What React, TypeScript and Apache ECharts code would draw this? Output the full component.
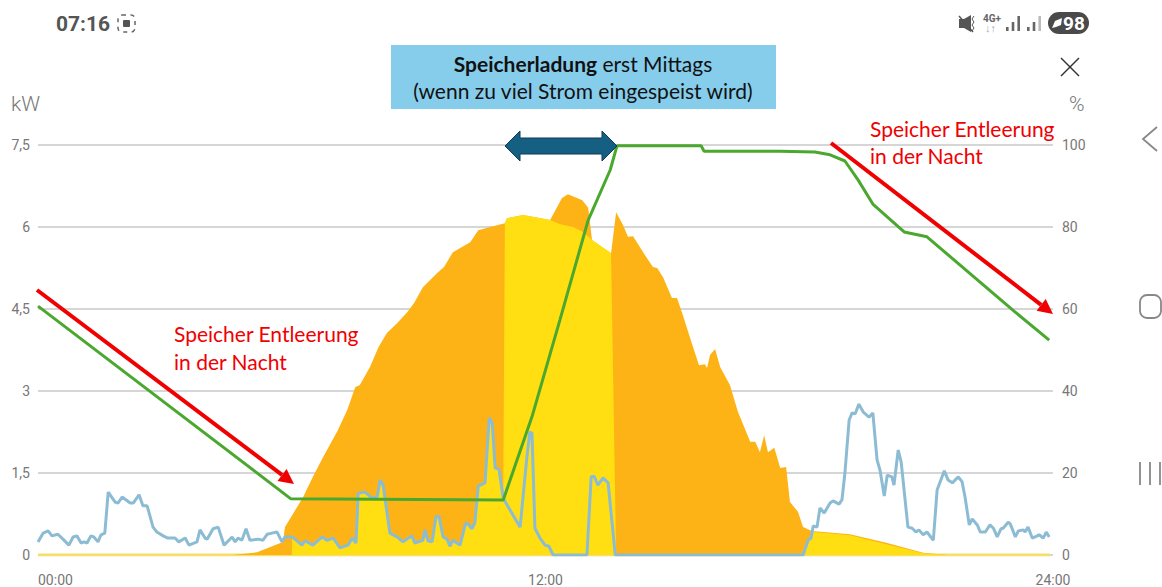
import React, { useEffect, useRef } from "react";
import * as echarts from "echarts";

const xTickLabels = ["00:00", "12:00", "24:00"];
const powerTicks = ["0", "1,5", "3", "4,5", "6", "7,5"];
const percentTicks = ["0", "20", "40", "60", "80", "100"];

const baseline = [[0, 0], [23.93, 0]];

const production = [
  [4.61, 0], [5.18, 0.05], [5.79, 0.24], [5.84, 0.51], [6.27, 1.06], [6.5, 1.43], [6.74, 1.79], [7.08, 2.27], [7.31, 2.65], [7.5, 3.07], [7.61, 3.11],
  [7.85, 3.44], [8.05, 3.8], [8.25, 4.06], [8.49, 4.24], [8.73, 4.44], [8.9, 4.62], [9.1, 4.9], [9.44, 5.16], [9.6, 5.27], [9.81, 5.54], [10.22, 5.72], [10.41, 5.94],
  [10.69, 6.0], [11.04, 6.07], [11.09, 6.16], [11.47, 6.22], [12.11, 6.13], [12.39, 6.53], [12.53, 6.6], [12.87, 6.49],
  [13.01, 6.35], [13.1, 5.76], [13.55, 5.52], [13.67, 6.27], [13.83, 6.04], [13.95, 5.82], [14.07, 5.83], [14.35, 5.49],
  [14.54, 5.27], [14.64, 5.25], [14.78, 5.08], [14.99, 4.7], [15.11, 4.7], [15.23, 4.43], [15.42, 3.97], [15.49, 3.8],
  [15.63, 3.47], [15.77, 3.49], [15.82, 3.42], [15.89, 3.66], [16.01, 3.77], [16.13, 3.44], [16.36, 3.11], [16.55, 2.62],
  [16.84, 2.07], [16.96, 2.07], [17.07, 1.88], [17.17, 2.19], [17.26, 1.88], [17.41, 1.96], [17.55, 1.59], [17.69, 1.61],
  [17.78, 0.97], [17.97, 0.79], [18.09, 0.51], [18.3, 0.44], [19.2, 0.38], [20.08, 0.22], [20.93, 0.04], [21.5, 0], [23.93, 0],
];

const selfUse = [
  [6.0, 0], [6.01, 0.33], [6.24, 0.18], [6.31, 0.26], [6.5, 0.18], [6.72, 0.33], [6.83, 0.27], [6.98, 0.31], [7.14, 0.13],
  [7.33, 0.18], [7.43, 0.31], [7.52, 0.22], [7.57, 1.13], [7.73, 1.15], [7.9, 1.04], [8.02, 1.06], [8.09, 1.37], [8.16, 1.28],
  [8.32, 0.4], [8.49, 0.33], [8.63, 0.24], [8.84, 0.35], [8.91, 0.22], [9.1, 0.27], [9.15, 0.46], [9.22, 0.26], [9.32, 0.24],
  [9.41, 0.7], [9.48, 0.71], [9.58, 0.33], [9.67, 0.29], [9.74, 0.16], [9.81, 0.27], [9.98, 0.18], [10.1, 0.55], [10.14, 0.59],
  [10.26, 0.48], [10.33, 0.59], [10.41, 1.26], [10.57, 1.32], [10.67, 2.51], [10.74, 2.41], [10.81, 1.59], [10.9, 1.57],
  [11.0, 1.04], [11.04, 6.07], [11.09, 6.16], [11.47, 6.22], [12.11, 6.13], [12.35, 6.05], [12.65, 6.0], [12.89, 5.91],
  [13.1, 5.76], [13.55, 5.52], [13.67, 0], [18.09, 0], [18.33, 0.42], [19.2, 0.36], [20.08, 0.19], [20.93, 0.03], [21.5, 0],
];

const consumption = [
  [0, 0.24], [0.12, 0.4], [0.24, 0.44], [0.33, 0.35], [0.47, 0.38], [0.59, 0.29], [0.73, 0.18], [0.83, 0.33], [0.92, 0.35],
  [1.02, 0.22], [1.09, 0.24], [1.16, 0.22], [1.25, 0.35], [1.32, 0.33], [1.42, 0.24], [1.49, 0.37], [1.58, 0.4], [1.66, 1.15],
  [1.82, 0.97], [1.89, 0.95], [1.99, 1.06], [2.18, 0.95], [2.25, 0.95], [2.39, 1.1], [2.48, 0.9], [2.58, 0.9], [2.72, 0.51],
  [2.81, 0.42], [2.96, 0.35], [3.07, 0.31], [3.24, 0.31], [3.33, 0.24], [3.48, 0.31], [3.57, 0.18], [3.76, 0.24], [3.83, 0.46],
  [3.95, 0.31], [4.0, 0.29], [4.14, 0.48], [4.26, 0.51], [4.4, 0.18], [4.59, 0.33], [4.66, 0.24], [4.73, 0.31], [4.82, 0.27],
  [4.92, 0.48], [5.01, 0.27], [5.2, 0.29], [5.32, 0.27], [5.42, 0.38], [5.53, 0.4], [5.65, 0.42], [5.77, 0.24], [5.84, 0.33],
  [6.01, 0.33], [6.24, 0.18], [6.31, 0.26], [6.5, 0.18], [6.72, 0.33], [6.83, 0.27], [6.98, 0.31], [7.14, 0.13], [7.33, 0.18],
  [7.43, 0.31], [7.52, 0.22], [7.57, 1.13], [7.73, 1.15], [7.9, 1.04], [8.02, 1.06], [8.09, 1.37], [8.16, 1.28], [8.32, 0.4],
  [8.49, 0.33], [8.63, 0.24], [8.84, 0.35], [8.91, 0.22], [9.1, 0.27], [9.15, 0.46], [9.22, 0.26], [9.32, 0.24], [9.41, 0.7],
  [9.48, 0.71], [9.58, 0.33], [9.67, 0.29], [9.74, 0.16], [9.81, 0.27], [9.98, 0.18], [10.1, 0.55], [10.14, 0.59], [10.26, 0.48],
  [10.33, 0.59], [10.41, 1.26], [10.57, 1.32], [10.67, 2.51], [10.74, 2.41], [10.81, 1.59], [10.9, 1.57], [11.0, 1.04],
  [11.23, 0.73], [11.4, 0.51], [11.56, 1.79], [11.63, 2.25], [11.68, 2.23], [11.75, 0.49], [11.87, 0.31], [11.99, 0.18],
  [12.08, 0.16], [12.18, 0], [12.98, 0], [13.08, 1.43], [13.15, 1.44], [13.24, 1.28], [13.36, 1.41], [13.48, 1.32], [13.65, 0],
  [18.09, 0], [18.21, 0.27], [18.28, 0.31], [18.33, 0.53], [18.42, 0.51], [18.49, 0.86], [18.59, 0.77], [18.73, 0.95],
  [18.8, 0.99], [18.94, 0.93], [19.01, 1.01], [19.08, 1.5], [19.18, 2.47], [19.25, 2.6], [19.32, 2.58], [19.41, 2.76],
  [19.51, 2.62], [19.65, 2.52], [19.74, 2.6], [19.84, 1.74], [19.91, 1.55], [20.01, 1.08], [20.08, 1.46], [20.19, 1.43],
  [20.24, 1.28], [20.34, 1.92], [20.41, 1.7], [20.57, 0.51], [20.67, 0.49], [20.76, 0.42], [20.83, 0.46], [20.93, 0.37],
  [21.02, 0.42], [21.17, 0.27], [21.26, 1.19], [21.43, 1.54], [21.52, 1.37], [21.62, 1.32], [21.76, 1.43], [21.85, 1.34],
  [21.92, 1.06], [22.02, 0.55], [22.09, 0.66], [22.21, 0.55], [22.28, 0.42], [22.4, 0.42], [22.51, 0.55], [22.59, 0.49],
  [22.68, 0.33], [22.77, 0.48], [22.82, 0.49], [22.94, 0.6], [22.99, 0.57], [23.11, 0.33], [23.18, 0.44], [23.3, 0.46],
  [23.34, 0.42], [23.41, 0.51], [23.51, 0.31], [23.63, 0.35], [23.67, 0.37], [23.77, 0.31], [23.84, 0.42], [23.91, 0.33],
];

const stateOfCharge = [
  [0, 60.7], [5.98, 13.7], [11.0, 13.4], [11.68, 33.7], [12.34, 57.3], [13.01, 81.7], [13.53, 93.9], [13.69, 99.8],
  [15.68, 99.8], [15.75, 98.5], [17.55, 98.5], [18.37, 98.3], [18.73, 97.6], [19.08, 96.1], [19.39, 91.5], [19.74, 85.6],
  [20.48, 78.8], [21.02, 77.6], [23.1, 59.3], [23.91, 52.4],
];

const grey = "#777777";
const calibriLike = "Lato, 'Open Sans', sans-serif";
const uiFont = "Roboto, sans-serif";
const noteSize = 21;

function redArrow(x1: number, y1: number, x2: number, y2: number) {
  const a = Math.atan2(y2 - y1, x2 - x1);
  const len = 15, half = 7.5;
  const bx = x2 - len * Math.cos(a), by = y2 - len * Math.sin(a);
  const nx = -Math.sin(a), ny = Math.cos(a);
  return [
    { type: "line", z: 50, shape: { x1, y1, x2: bx, y2: by }, style: { stroke: "#f00000", lineWidth: 4 } },
    { type: "polygon", z: 50, shape: { points: [[x2, y2], [bx + nx * half, by + ny * half], [bx - nx * half, by - ny * half]] }, style: { fill: "#f00000" } },
  ];
}

function textAt(x: number, y: number, text: string, size: number, fill: string, extra: any = {}) {
  return {
    type: "text", x, y, z: 60,
    style: { text, fontSize: size, fill, fontFamily: uiFont, verticalAlign: "middle", ...extra },
  };
}

function bars(x0: number, heights: number[], fills: string[]) {
  return heights.map((h, i) => ({
    type: "rect", z: 60, shape: { x: x0 + i * 5.7, y: 31 - h, width: 2.6, height: h }, style: { fill: fills[i] },
  }));
}

const overlay: any[] = [
  { type: "rect", z: 40, shape: { x: 391, y: 45, width: 385, height: 64 }, style: { fill: "#86cdec" } },
  {
    type: "text", z: 41, x: 583, y: 77,
    style: {
      text: "{b|Speicherladung} {n|erst Mittags}\n{n|(wenn zu viel Strom eingespeist wird)}",
      align: "center", verticalAlign: "middle", fill: "#111111", fontFamily: calibriLike, fontSize: noteSize, lineHeight: 27,
      rich: {
        b: { fontWeight: "bold", fontSize: noteSize, fontFamily: calibriLike, fill: "#111111", lineHeight: 27 },
        n: { fontSize: noteSize, fontFamily: calibriLike, fill: "#111111", lineHeight: 27 },
      },
    },
  },
  {
    type: "polygon", z: 45,
    shape: { points: [[505, 146], [520, 131], [520, 138], [602, 138], [602, 131], [617, 146], [602, 161], [602, 154], [520, 154], [520, 161]] },
    style: { fill: "#156082", stroke: "#0f3d55", lineWidth: 1 },
  },
  ...redArrow(37, 290, 294, 484),
  ...redArrow(831, 143, 1053, 314),
  {
    type: "text", z: 50, x: 174, y: 347,
    style: { text: "Speicher Entleerung\nin der Nacht", fill: "#f00000", fontFamily: calibriLike, fontSize: noteSize, lineHeight: 28, verticalAlign: "middle" },
  },
  {
    type: "text", z: 50, x: 870, y: 142,
    style: { text: "Speicher Entleerung\nin der Nacht", fill: "#f00000", fontFamily: calibriLike, fontSize: noteSize, lineHeight: 27, verticalAlign: "middle" },
  },
  textAt(56, 24, "07:16", 21, "#555555", { fontWeight: "bold" }),
  { type: "rect", z: 60, shape: { x: 118, y: 15, width: 17, height: 17, r: 4 }, style: { fill: "none", stroke: "#666", lineWidth: 1.5, lineDash: [4, 4.5] } },
  { type: "rect", z: 60, shape: { x: 123, y: 20, width: 7, height: 7, r: 1 }, style: { fill: "#555" } },
  { type: "polygon", z: 60, shape: { points: [[959, 19], [964, 19], [971, 15], [971, 32], [964, 28], [959, 28]] }, style: { fill: "#555" } },
  { type: "line", z: 60, shape: { x1: 959, y1: 16, x2: 973, y2: 32 }, style: { stroke: "#555", lineWidth: 1.5 } },
  { type: "polyline", z: 60, shape: { points: [[974, 16], [972, 19], [974, 22], [972, 25], [974, 28], [972, 31]] }, style: { fill: "none", stroke: "#555", lineWidth: 1 } },
  textAt(983, 18, "4G+", 10, "#666666", { fontWeight: "bold" }),
  textAt(985, 28, "↓↑", 11, "#aaaaaa"),
  ...bars(1006, [4, 9, 15], ["#666", "#666", "#666"]),
  ...bars(1027, [4, 9, 15], ["#666", "#666", "#bbb"]),
  { type: "rect", z: 60, shape: { x: 1048, y: 12, width: 41, height: 22, r: 11 }, style: { fill: "#4a4a4a" } },
  textAt(1063, 23.5, "98", 19, "#ffffff", { fontWeight: "bold" }),
  { type: "polygon", z: 61, shape: { points: [[1052, 28], [1055, 21], [1062, 18], [1061, 25], [1056, 27]] }, style: { fill: "#ffffff" } },
  { type: "line", z: 60, shape: { x1: 1061, y1: 58, x2: 1079, y2: 76 }, style: { stroke: "#333", lineWidth: 1.5 } },
  { type: "line", z: 60, shape: { x1: 1079, y1: 58, x2: 1061, y2: 76 }, style: { stroke: "#333", lineWidth: 1.5 } },
  textAt(11, 104, "kW", 21, grey, { fontWeight: 300 }),
  textAt(1069, 104, "%", 21, grey, { fontWeight: 300 }),
  { type: "polyline", z: 60, shape: { points: [[1157, 127], [1143, 139], [1157, 151]] }, style: { fill: "none", stroke: "#888", lineWidth: 1.8 } },
  { type: "rect", z: 60, shape: { x: 1140, y: 295, width: 21, height: 23, r: 7 }, style: { fill: "none", stroke: "#888", lineWidth: 1.8 } },
  { type: "line", z: 60, shape: { x1: 1140, y1: 462, x2: 1140, y2: 485 }, style: { stroke: "#888", lineWidth: 1.8 } },
  { type: "line", z: 60, shape: { x1: 1150, y1: 462, x2: 1150, y2: 485 }, style: { stroke: "#888", lineWidth: 1.8 } },
  { type: "line", z: 60, shape: { x1: 1160, y1: 462, x2: 1160, y2: 485 }, style: { stroke: "#888", lineWidth: 1.8 } },
];

export default function App() {
  const ref = useRef<HTMLDivElement>(null);
  useEffect(() => {
    const chart = echarts.init(ref.current!, undefined, { renderer: "svg" });
    chart.setOption({
      animation: false,
      backgroundColor: "#ffffff",
      grid: { left: 38, right: 109, top: 145, bottom: 32, containLabel: false },
      xAxis: {
        type: "value", min: 0, max: 24, interval: 12,
        axisLine: { show: false }, axisTick: { show: false }, splitLine: { show: false },
        axisLabel: {
          margin: 18, color: grey, fontSize: 14, fontFamily: uiFont, alignMinLabel: "left",
          showMinLabel: true, showMaxLabel: true,
          formatter: (v: number) => xTickLabels[v / 12],
        },
      },
      yAxis: [
        {
          type: "value", min: 0, max: 7.5, interval: 1.5,
          axisLine: { show: false }, axisTick: { show: false },
          splitLine: { show: true, lineStyle: { color: "#c8c8c8", width: 1.5 } },
          axisLabel: {
            margin: 8, color: grey, fontSize: 14, fontFamily: uiFont, align: "right",
            formatter: (v: number) => powerTicks[Math.round(v / 1.5)],
          },
        },
        {
          type: "value", min: 0, max: 100, interval: 20, position: "right",
          axisLine: { show: false }, axisTick: { show: false }, splitLine: { show: false },
          axisLabel: {
            margin: 9, color: grey, fontSize: 14, fontFamily: uiFont,
            formatter: (v: number) => percentTicks[Math.round(v / 20)],
          },
        },
      ],
      series: [
        { name: "Basis", type: "line", data: baseline, showSymbol: false, silent: true, lineStyle: { color: "#f6dd6c", width: 3 }, z: 2 },
        { name: "Erzeugung", type: "line", data: production, showSymbol: false, lineStyle: { width: 0 }, areaStyle: { color: "#fdb316", opacity: 1 }, z: 3 },
        { name: "Eigenverbrauch", type: "line", data: selfUse, showSymbol: false, lineStyle: { width: 0 }, areaStyle: { color: "#ffdf11", opacity: 1 }, z: 4 },
        { name: "Verbrauch", type: "line", data: consumption, showSymbol: false, lineStyle: { color: "#8cbcd4", width: 3 }, z: 5 },
        { name: "Ladezustand", type: "line", yAxisIndex: 1, data: stateOfCharge, showSymbol: false, lineStyle: { color: "#4aa82f", width: 3 }, z: 6 },
      ],
      graphic: { elements: overlay },
    });
    return () => chart.dispose();
  }, []);
  return <div ref={ref} style={{ position: "absolute", left: 0, top: 0, width: 1162, height: 587 }} />;
}
